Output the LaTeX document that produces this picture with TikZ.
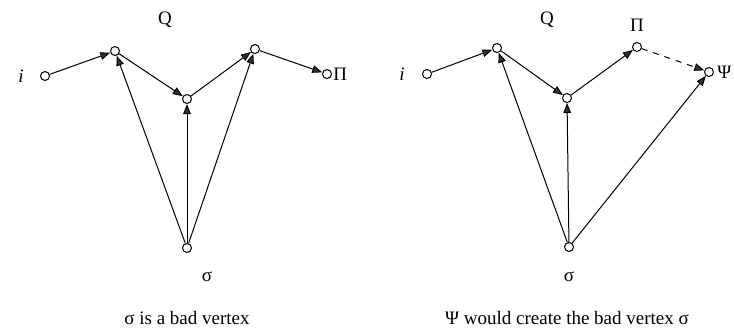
\documentclass[tikz,border=0pt]{standalone}
\usepackage{fontspec}
\setmainfont{Liberation Serif}
\usetikzlibrary{arrows.meta}
\tikzset{every picture/.style={font issue=\fontsize{9.5}{11}},
         font issue/.style={execute at begin picture={#1\selectfont}},
         vertex/.style={circle, draw, fill=white, line width=0.5pt, inner sep=0pt, minimum size=4.5pt},
         edge/.style={-{Triangle[length=5pt, width=3.8pt, fill=black!80]}, line width=0.5pt}
}
\begin{document}
\begin{tikzpicture}[x=0.5pt, y=-0.5pt]
        \useasboundingbox (0,0) rectangle (734,329);
        % left: sigma is a bad vertex
        \node [vertex] (li) at (45,76) {};
        \node [vertex] (lq) at (115,51) {};
        \node [vertex] (lm) at (187,99) {};
        \node [vertex] (lr) at (255,49) {};
        \node [vertex] (lpi) at (327,74) {};
        \node [vertex] (ls) at (187,248) {};
        \node (lilab) at (21,76) {\textit{i}};
        \node (lqlab) at (165,20) {Q};
        \node [anchor=west, inner sep=1pt] (lpilab) at (331,74) {Π};
        \node (lslab) at (207,277) {σ};
        \node (lcap) at (187,318) {σ is a bad vertex};
        \draw [edge] (li) -- (lq);
        \draw [edge] (lq) -- (lm);
        \draw [edge] (lm) -- (lr);
        \draw [edge] (lr) -- (lpi);
        \draw [edge] (ls) -- (lq);
        \draw [edge] (ls) -- (lm);
        \draw [edge] (ls) -- (lr);
        % right: Psi would create the bad vertex sigma
        \node [vertex] (ri) at (427,74) {};
        \node [vertex] (rq) at (497,48) {};
        \node [vertex] (rm) at (567,98) {};
        \node [vertex] (rpi) at (637,47) {};
        \node [vertex] (rpsi) at (709,72) {};
        \node [vertex] (rs) at (569,247) {};
        \node (rilab) at (402,74) {\textit{i}};
        \node (rqlab) at (547,20) {Q};
        \node (rpilab) at (637,25) {Π};
        \node [anchor=west, inner sep=0pt] (rpsilab) at (717,72) {Ψ};
        \node (rslab) at (569,277) {σ};
        \node (rcap) at (567,318) {Ψ would create the bad vertex σ};
        \draw [edge] (ri) -- (rq);
        \draw [edge] (rq) -- (rm);
        \draw [edge] (rm) -- (rpi);
        \draw [edge, dashed] (rpi) -- (rpsi);
        \draw [edge] (rs) -- (rq);
        \draw [edge] (rs) -- (rm);
        \draw [edge] (rs) -- (rpsi);
      \end{tikzpicture}
\end{document}
